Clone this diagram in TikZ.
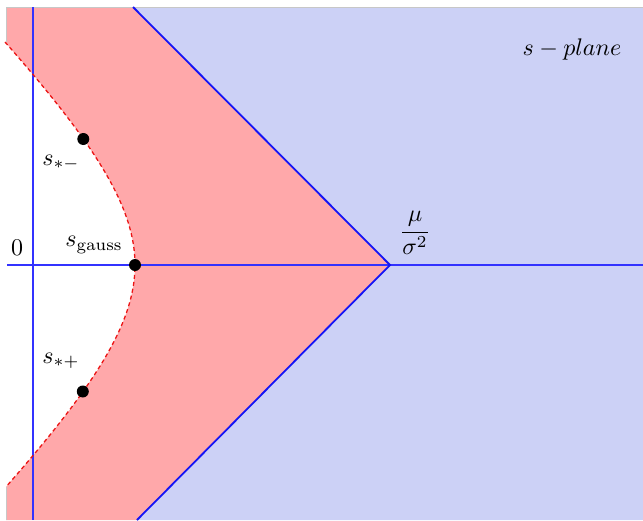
\documentclass[tikz,border=0pt]{standalone}
\usetikzlibrary{calc}
\definecolor{redfill}{RGB}{255,168,170}
\definecolor{bluefill}{RGB}{204,209,246}
\definecolor{vline}{RGB}{20,20,245}
\definecolor{axisblue}{RGB}{50,50,255}
\definecolor{curvered}{RGB}{235,20,20}
\tikzset{
  lbl/.style={inner sep=0pt, scale=2.4},
  dot/.style={circle, fill=black, inner sep=0pt, minimum size=12pt},
  vedge/.style={draw=vline, line width=1.8pt},
  axisline/.style={draw=axisblue, line width=1.1pt},
  curve/.style={draw=curvered, line width=1.3pt, dash pattern=on 4pt off 3pt},
  frame/.style={draw=black!22, line width=0.8pt}
}
\begin{document}
\begin{tikzpicture}[x=1pt,y=-1pt]
\useasboundingbox (0,0) rectangle (643,520);
% corner coordinates
\coordinate (vtop) at (133,7);
\coordinate (vtip) at (390,265);
\coordinate (vbot) at (137,520);
\coordinate (trc) at (643,7);
\coordinate (brc) at (643,520);
\coordinate (tlc) at (6,7);
\coordinate (blc) at (6,520);
% blue region
\fill[bluefill] (vtop) -- (trc) -- (brc) -- (vbot) -- (vtip) -- cycle;
% red region
\fill[redfill] (tlc) -- (vtop) -- (vtip) -- (vbot) -- (blc) -- (6,487)
  -- plot[domain=222:-223, samples=90, smooth] ({10*(27.07-sqrt(184.15+1.0494*(\x/10)^2))},{265+\x})
  -- (6,42) -- cycle;
% faint frame
\draw[frame] (tlc) -- (trc);
\draw[frame] (tlc) -- (6,42);
\draw[frame] (6,487) -- (blc);
% axes
\coordinate (ax0) at (33,7);
\coordinate (ax1) at (33,520);
\coordinate (ay0) at (7,265);
\coordinate (ay1) at (643,265);
\draw[axisline] (ax0) -- (ax1);
\draw[axisline] (ay0) -- (ay1);
% V edges
\draw[vedge] (vtop) -- (vtip) -- (vbot);
% dashed curve
\draw[curve] plot[domain=-223:222, samples=90, smooth] ({10*(27.07-sqrt(184.15+1.0494*(\x/10)^2))},{265+\x});
% dots
\node[dot] (sminus) at (83.3,139) {};
\node[dot] (sgauss) at (135,265) {};
\node[dot] (splus) at (82.8,391.5) {};
% labels
\node[lbl] (lminus) at (61,163) {$s_{*-}$};
\node[lbl] (lgauss) at (94,245) {$s_{\mathrm{gauss}}$};
\node[lbl] (lplus) at (61,361) {$s_{*+}$};
\node[lbl] (lzero) at (17,248) {$0$};
\node[lbl] (lfrac) at (415,233) {$\displaystyle\frac{\mu}{\sigma^2}$};
\node[lbl] (lplane) at (572,49) {$s-plane$};
\end{tikzpicture}
\end{document}
